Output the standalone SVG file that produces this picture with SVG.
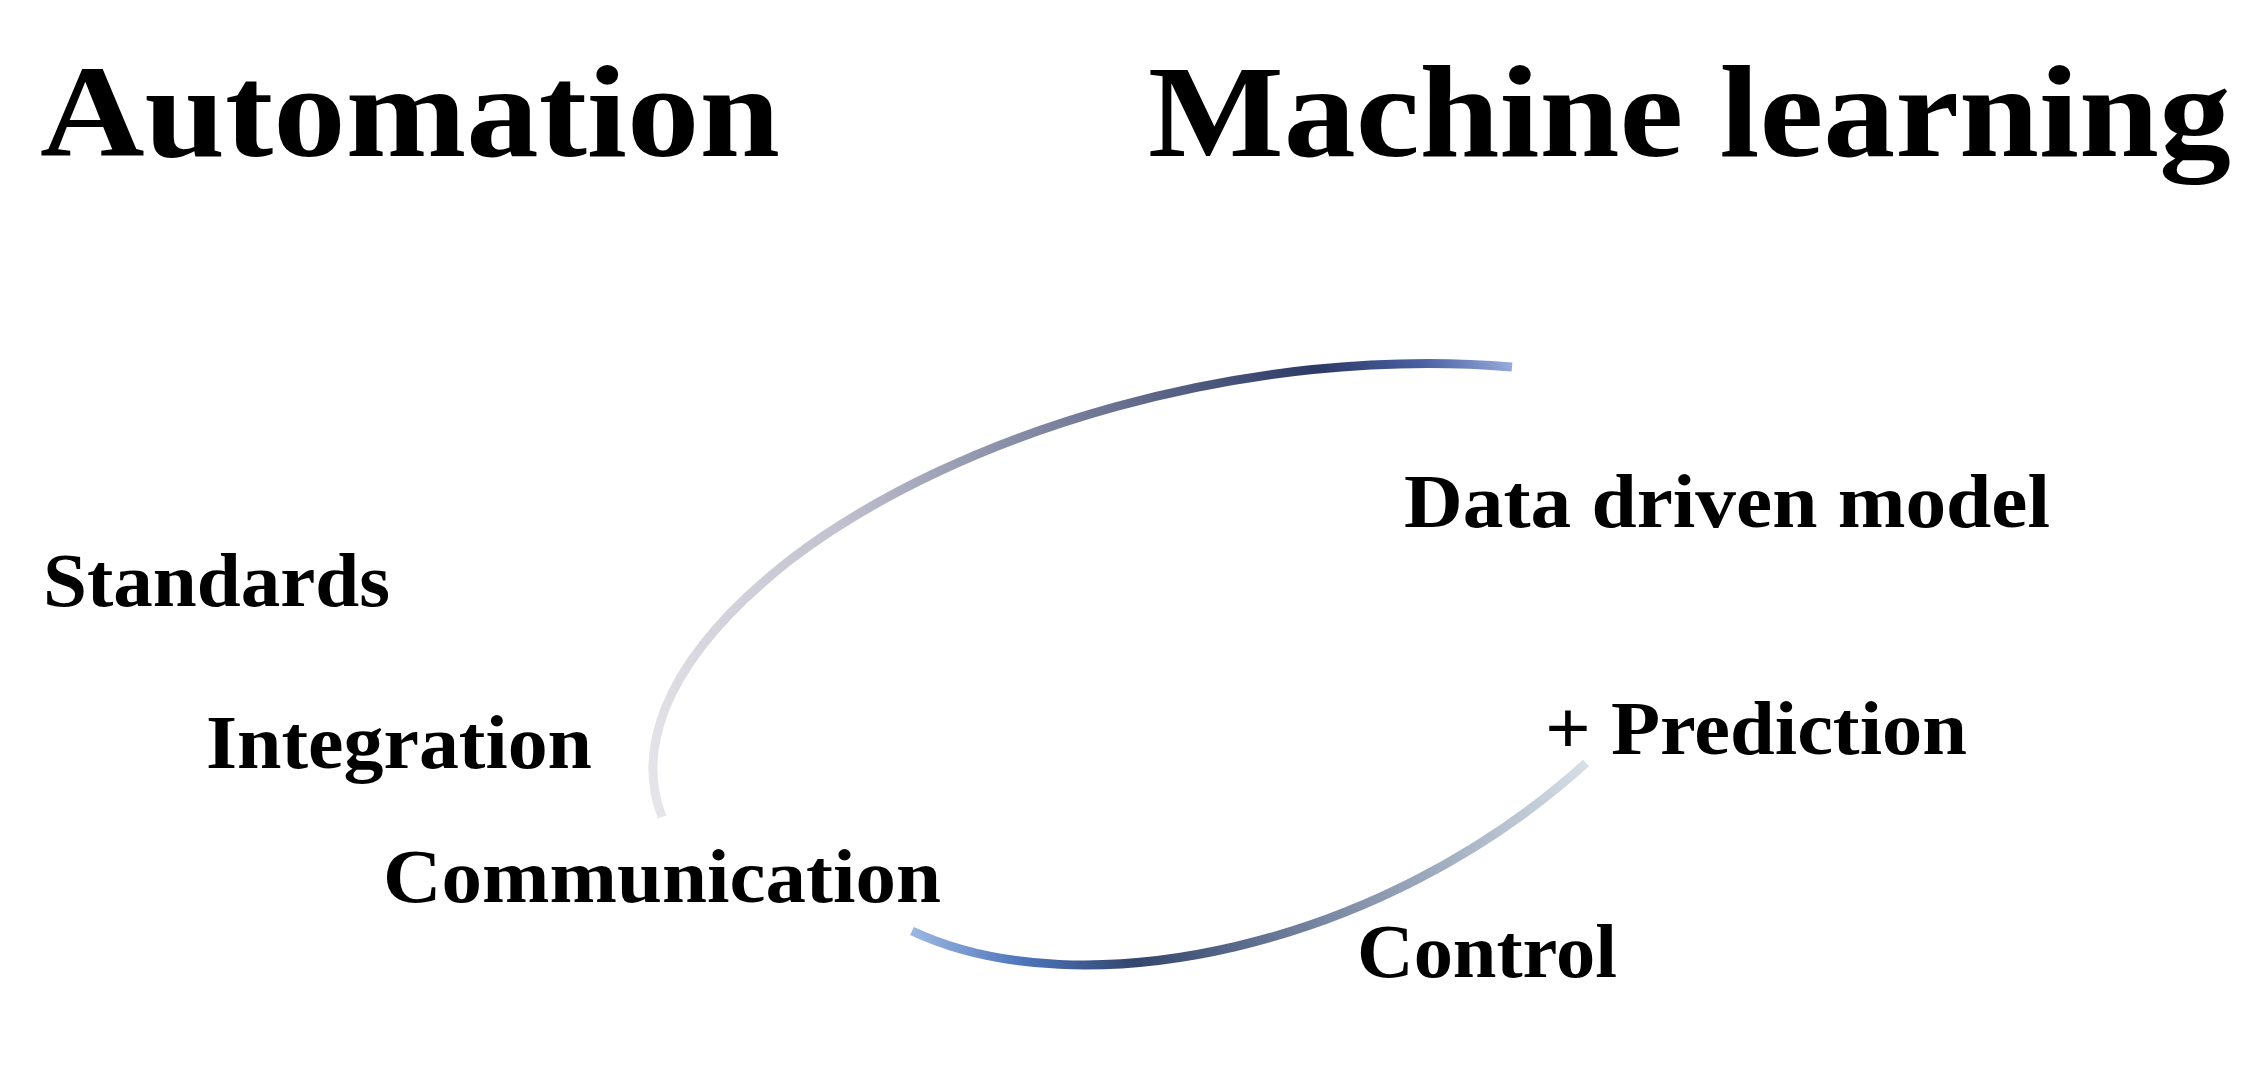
<svg xmlns="http://www.w3.org/2000/svg" width="2264" height="1068" viewBox="0 0 2264 1068">
<style>
.t{font-family:"Liberation Serif",serif;font-weight:bold;fill:#000}
.h{font-size:132px}
.l{font-size:76px}
.arc{fill:none;stroke-width:9;stroke-linecap:butt}
</style>
<defs>
<linearGradient id="gU" gradientUnits="userSpaceOnUse" x1="660" y1="817" x2="1512" y2="365">
<stop offset="0" stop-color="#e6e5ea"/>
<stop offset="0.3" stop-color="#c2c2d0"/>
<stop offset="0.6" stop-color="#6e7694"/>
<stop offset="0.82" stop-color="#2c3a66"/>
<stop offset="0.92" stop-color="#4a62a4"/>
<stop offset="1" stop-color="#97aadb"/>
</linearGradient>
<linearGradient id="gL" gradientUnits="userSpaceOnUse" x1="912" y1="931" x2="1586" y2="765">
<stop offset="0" stop-color="#9ab7e2"/>
<stop offset="0.15" stop-color="#4b72b8"/>
<stop offset="0.3" stop-color="#34466e"/>
<stop offset="0.6" stop-color="#7d8ca6"/>
<stop offset="1" stop-color="#d6dee6"/>
</linearGradient>
</defs>
<g id="titles">
<text class="t h" x="40" y="156" textLength="740" lengthAdjust="spacingAndGlyphs">Automation</text>
<text class="t h" x="1148" y="156" textLength="1083" lengthAdjust="spacingAndGlyphs">Machine learning</text>
</g>
<g id="connectors">
<path class="arc" stroke="url(#gU)" d="M1512,367 C1250,345 960,430 790,560 C650,670 640,760 662,817"/>
<path class="arc" stroke="url(#gL)" d="M912,931 C1080,1010 1380,950 1586,763"/>
</g>
<g id="n-data"><text class="t l" x="1404" y="527" textLength="646" lengthAdjust="spacingAndGlyphs">Data driven model</text></g>
<g id="n-standards"><text class="t l" x="43" y="606" textLength="347" lengthAdjust="spacingAndGlyphs">Standards</text></g>
<g id="n-integration"><text class="t l" x="206" y="768" textLength="386" lengthAdjust="spacingAndGlyphs">Integration</text></g>
<g id="n-prediction"><text class="t l" x="1545" y="754" textLength="422" lengthAdjust="spacingAndGlyphs">+ Prediction</text></g>
<g id="n-communication"><text class="t l" x="383" y="902" textLength="558" lengthAdjust="spacingAndGlyphs">Communication</text></g>
<g id="n-control"><text class="t l" x="1357" y="977" textLength="260" lengthAdjust="spacingAndGlyphs">Control</text></g>
</svg>
